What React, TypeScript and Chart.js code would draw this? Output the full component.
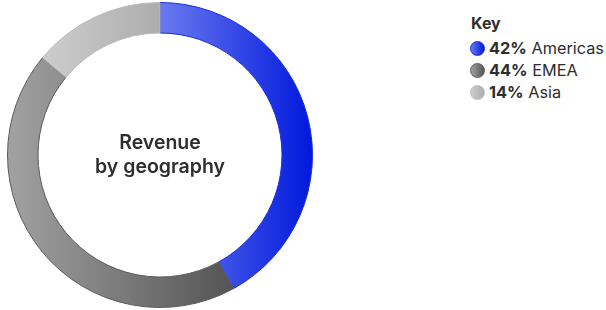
import React, { useEffect, useRef } from "react";
import { Chart, registerables } from "chart.js";

Chart.register(...registerables);

const categories = ["Americas", "EMEA", "Asia"];
const values = [42, 44, 14];
const legendLabels = ["42%", "44%", "14%"];
const centerLines = ["Revenue", "by geography"];
const gradientStops: [string, string][] = [
  ["#6a7af0", "#0018dc"],
  ["#a2a2a2", "#545454"],
  ["#cdcdcd", "#adadad"],
];
const borderColors = ["#1a2ee2", "#5c5c5c", "#bcbcbc"];
const FONT = "Inter, 'Open Sans', sans-serif";

function segmentXRange(index: number, cx: number, r: number) {
  const total = values.reduce((a, b) => a + b, 0);
  let start = 0;
  for (let i = 0; i < index; i++) start += values[i];
  const a0 = (start / total) * Math.PI * 2 - Math.PI / 2;
  const a1 = ((start + values[index]) / total) * Math.PI * 2 - Math.PI / 2;
  let min = Infinity;
  let max = -Infinity;
  const steps = 120;
  for (let s = 0; s <= steps; s++) {
    const a = a0 + ((a1 - a0) * s) / steps;
    const x = cx + Math.cos(a) * r;
    const xi = cx + Math.cos(a) * r * 0.8;
    min = Math.min(min, x, xi);
    max = Math.max(max, x, xi);
  }
  return [min, max];
}

const centerTextPlugin = {
  id: "centerText",
  afterDraw(chart: any) {
    const { ctx, chartArea } = chart;
    const cx = (chartArea.left + chartArea.right) / 2;
    const cy = (chartArea.top + chartArea.bottom) / 2;
    ctx.save();
    ctx.fillStyle = "#2e2e2e";
    ctx.font = `600 19.5px ${FONT}`;
    ctx.textAlign = "center";
    ctx.textBaseline = "alphabetic";
    ctx.fillText(centerLines[0], cx, cy - 6);
    ctx.fillText(centerLines[1], cx, cy + 18);
    ctx.restore();
  },
};

export default function App() {
  const ref = useRef<HTMLCanvasElement | null>(null);

  useEffect(() => {
    if (!ref.current) return;
    const chart = new Chart(ref.current, {
      type: "doughnut",
      data: {
        labels: categories,
        datasets: [
          {
            data: values,
            backgroundColor: (ctx: any) => {
              const c = ctx.chart;
              const area = c.chartArea;
              const i = ctx.dataIndex;
              if (!area) return gradientStops[i][0];
              const cx = (area.left + area.right) / 2;
              const r = Math.min(area.right - area.left, area.bottom - area.top) / 2;
              const [x0, x1] = segmentXRange(i, cx, r);
              const g = c.ctx.createLinearGradient(x0, 0, x1, 0);
              g.addColorStop(0, gradientStops[i][0]);
              g.addColorStop(1, gradientStops[i][1]);
              return g;
            },
            borderColor: borderColors,
            borderWidth: 1,
          },
        ],
      },
      options: {
        animation: false,
        responsive: true,
        maintainAspectRatio: false,
        cutout: "80%",
        layout: { padding: 2 },
        plugins: {
          legend: { display: false },
          tooltip: { enabled: false },
        },
      },
      plugins: [centerTextPlugin],
    });
    return () => chart.destroy();
  }, []);

  return (
    <div style={{ position: "fixed", left: 0, top: 0, width: 606, height: 310, background: "#fff" }}>
      <div style={{ position: "absolute", left: 0, top: 0, width: 320, height: 310 }}>
        <canvas ref={ref} />
      </div>
      <div
        style={{
          position: "absolute",
          left: 470,
          top: 12,
          fontFamily: FONT,
          color: "#2e2e2e",
          whiteSpace: "nowrap",
        }}
      >
        <div style={{ fontWeight: "bold", fontSize: 16, lineHeight: "22px", height: 22, marginBottom: 3, paddingLeft: 1 }}>
          Key
        </div>
        {categories.map((c, i) => (
          <div key={c} style={{ display: "flex", alignItems: "center", height: 22, fontSize: 16.3, lineHeight: "22px" }}>
            <span
              style={{
                display: "inline-block",
                width: 13,
                height: 13,
                borderRadius: "50%",
                background: `linear-gradient(90deg, ${gradientStops[i][0]}, ${gradientStops[i][1]})`,
                border: `1px solid ${borderColors[i]}`,
                marginRight: 4,
                flexShrink: 0,
              }}
            />
            <span style={{ fontWeight: "bold" }}>{legendLabels[i]}</span>
            <span>&nbsp;{c}</span>
          </div>
        ))}
      </div>
    </div>
  );
}
